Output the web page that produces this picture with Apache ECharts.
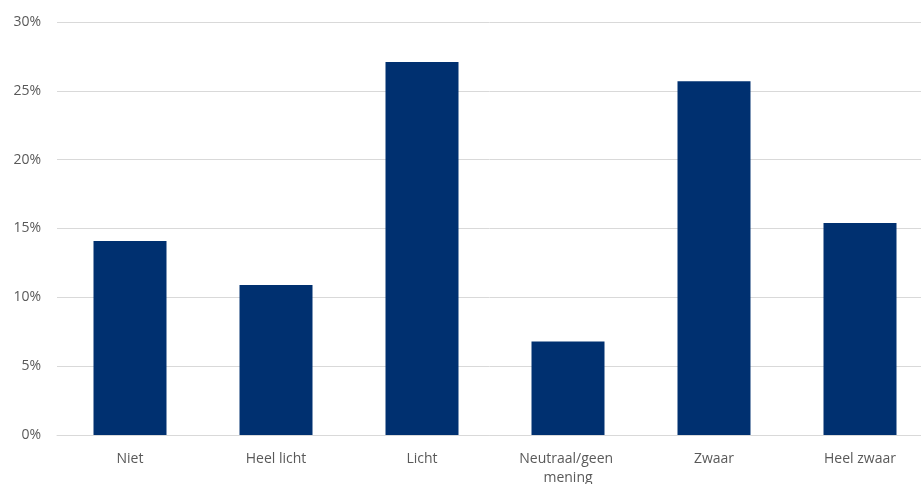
<!DOCTYPE html>
<html>
<head>
<meta charset="utf-8">
<script src="https://cdn.jsdelivr.net/npm/echarts@6/dist/echarts.min.js"></script>
<style>
  html, body { margin: 0; padding: 0; background: #fff; }
  #container { width: 921px; height: 484px; }
</style>
</head>
<body>
<div id="container"></div>
<script>
var categories = ['Niet', 'Heel licht', 'Licht', 'Neutraal/geen mening', 'Zwaar', 'Heel zwaar'];
var values = [14.1, 10.9, 27.1, 6.8, 25.7, 15.4];

var myChart = echarts.init(document.getElementById('container'));

var option = {
    animation: false,
    grid: {
        left: 57,
        top: 22,
        width: 876,
        height: 413,
        outerBoundsMode: 'none',
        containLabel: false
    },
    xAxis: {
        type: 'category',
        data: categories,
        axisLine: { lineStyle: { color: '#d9d9d9', width: 1 } },
        axisTick: { show: false },
        axisLabel: {
            color: '#595959',
            fontFamily: 'Open Sans',
            fontSize: 14,
            margin: 15,
            lineHeight: 19,
            width: 120,
            overflow: 'break',
            interval: 0
        }
    },
    yAxis: {
        type: 'value',
        min: 0,
        max: 30,
        interval: 5,
        axisLine: { show: false },
        axisTick: { show: false },
        splitLine: { lineStyle: { color: '#d9d9d9', width: 1 } },
        axisLabel: {
            color: '#595959',
            fontFamily: 'Open Sans',
            fontSize: 14,
            margin: 16,
            formatter: '{value}%'
        }
    },
    series: [
        {
            type: 'bar',
            data: values,
            barWidth: '50%',
            itemStyle: { color: '#003070' }
        }
    ]
};

myChart.setOption(option);
</script>
</body>
</html>
